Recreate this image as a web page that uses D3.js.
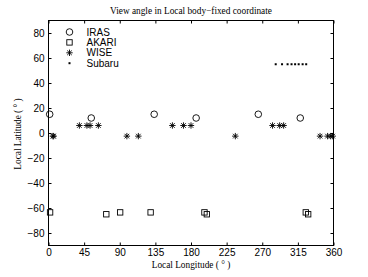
<!DOCTYPE html>
<html><head><meta charset="utf-8">
<script src="https://cdn.jsdelivr.net/npm/d3@7"></script>
<style>body{margin:0;background:#fff}svg{display:block}</style>
</head><body>
<svg id="c" width="368" height="277"></svg>
<script>
// Data (longitude, latitude) in degrees
const irasLon = [1.5, 54, 133.5, 186.5, 265, 318];
const irasLat = [15, 12, 15, 12, 15, 12];
const akariLon = [2, 73, 90.5, 129, 197, 200, 325, 328];
const akariLat = [-63.5, -65, -63.5, -63.5, -63.5, -65, -63.5, -65];
const wiseLon = [5.5, 6.5, 39, 48.5, 52.5, 63, 99, 113.5, 156.5, 170.5, 180, 236, 283, 292, 297, 343, 352.5, 356.5, 359];
const wiseLat = [-2.5, -2.5, 6, 6, 6, 6, -2.5, -2.5, 6, 6, 6, -2.5, 6, 6, 6, -2.5, -2.5, -2.5, -2.5];
const subaruLon = [287, 295, 302, 307, 311.5, 316, 321, 325.5];
const subaruLat = [55, 55, 55, 55, 55, 55, 55, 55];
const xTicks = [0, 45, 90, 135, 180, 225, 270, 315, 360];
const yTicks = [-80, -60, -40, -20, 0, 20, 40, 60, 80];
const seriesNames = ["IRAS", "AKARI", "WISE", "Subaru"];

const svg = d3.select("#c");
const L = 48.5, R = 333.5, T = 20.5, B = 245.5;
const x = d3.scaleLinear().domain([0, 360]).range([L, R]);
const y = d3.scaleLinear().domain([-90, 90]).range([B, T]);
const sans = "Liberation Sans, Arial, sans-serif";
const serif = "Liberation Serif, Times New Roman, serif";

// axes
const xb = svg.append("g").attr("transform", `translate(0,${B})`)
  .call(d3.axisBottom(x).tickValues(xTicks).tickSizeInner(-3).tickSizeOuter(0).tickPadding(3));
const xt = svg.append("g").attr("transform", `translate(0,${T})`)
  .call(d3.axisTop(x).tickValues(xTicks).tickSizeInner(-3).tickSizeOuter(0).tickFormat(""));
const yl = svg.append("g").attr("transform", `translate(${L},0)`)
  .call(d3.axisLeft(y).tickValues(yTicks).tickSizeInner(-3).tickSizeOuter(0).tickPadding(4));
const yr = svg.append("g").attr("transform", `translate(${R},0)`)
  .call(d3.axisRight(y).tickValues(yTicks).tickSizeInner(-3).tickSizeOuter(0).tickFormat(""));
svg.selectAll(".domain").remove();
svg.selectAll(".tick line").attr("stroke", "#000").attr("stroke-width", 1);
svg.selectAll(".tick text").attr("font-family", sans).attr("font-size", 10).attr("fill", "#000");
yl.selectAll(".tick text").text(d => d < 0 ? "\u2212" + Math.abs(d) : d);
svg.append("rect").attr("x", L).attr("y", T).attr("width", R - L).attr("height", B - T)
  .attr("fill", "none").attr("stroke", "#000").attr("stroke-width", 1);

// marker shapes
const circ = (g, cx, cy) => g.append("circle").attr("cx", cx).attr("cy", cy).attr("r", 3.3)
  .attr("fill", "none").attr("stroke", "#000").attr("stroke-width", 0.9);
const sq = (g, cx, cy) => g.append("rect").attr("x", cx - 2.7).attr("y", cy - 2.7).attr("width", 5.4).attr("height", 5.4)
  .attr("fill", "none").attr("stroke", "#000").attr("stroke-width", 0.9);
const star = (g, cx, cy) => {
  const s = 3.2, d = 2.3;
  g.append("path").attr("d", `M${cx - s},${cy}H${cx + s}M${cx},${cy - s}V${cy + s}M${cx - d},${cy - d}L${cx + d},${cy + d}M${cx - d},${cy + d}L${cx + d},${cy - d}`)
    .attr("stroke", "#000").attr("stroke-width", 0.9).attr("fill", "none");
};
const dot = (g, cx, cy) => g.append("rect").attr("x", cx - 1).attr("y", cy - 1).attr("width", 2).attr("height", 2).attr("fill", "#000");

const pts = svg.append("g");
irasLon.forEach((v, i) => circ(pts, x(v), y(irasLat[i])));
akariLon.forEach((v, i) => sq(pts, x(v), y(akariLat[i])));
wiseLon.forEach((v, i) => star(pts, x(v), y(wiseLat[i])));
subaruLon.forEach((v, i) => dot(pts, x(v), y(subaruLat[i])));

// legend
const lg = svg.append("g");
const shapes = [circ, sq, star, dot];
seriesNames.forEach((n, i) => {
  const yy = 32 + i * 10.4;
  shapes[i](lg, 69.5, yy);
  lg.append("text").attr("x", 86.5).attr("y", yy + 3.5).attr("font-family", sans).attr("font-size", 10).text(n);
});

// titles
svg.append("text").attr("x", 191).attr("y", 14).attr("text-anchor", "middle")
  .attr("font-family", serif).attr("font-size", 9.3).text("View angle in Local body\u2212fixed coordinate");
svg.append("text").attr("x", 191).attr("y", 268).attr("text-anchor", "middle")
  .attr("font-family", serif).attr("font-size", 9.3).text("Local Longitude ( \u00b0 )");
svg.append("text").attr("transform", "translate(21,134) rotate(-90)").attr("text-anchor", "middle")
  .attr("font-family", serif).attr("font-size", 9.3).text("Local Latitude ( \u00b0 )");
</script>
</body></html>
